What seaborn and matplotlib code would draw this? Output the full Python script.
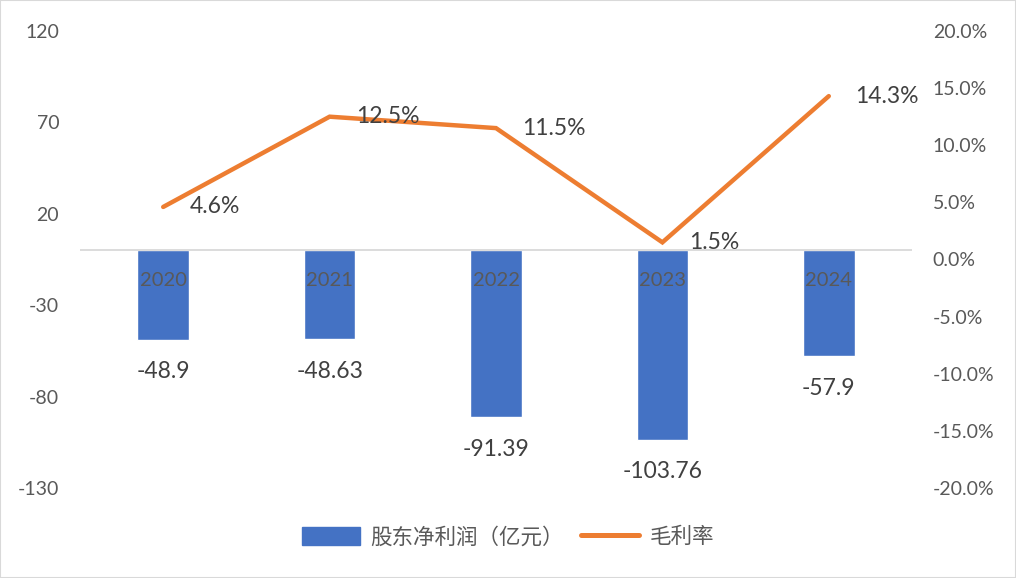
import matplotlib

matplotlib.use('Agg')

import matplotlib.pyplot as plt
import matplotlib.patches as mpatches
from matplotlib.lines import Line2D
from matplotlib.ticker import PercentFormatter
import seaborn as sns
import pandas as pd

years = ['2020', '2021', '2022', '2023', '2024']
net_profit = [-48.9, -48.63, -91.39, -103.76, -57.9]
gross_margin = [4.6, 12.5, 11.5, 1.5, 14.3]
profit_labels = ['-48.9', '-48.63', '-91.39', '-103.76', '-57.9']

left_ticks = [-130, -80, -30, 20, 70, 120]
right_ticks = [-20, -15, -10, -5, 0, 5, 10, 15, 20]

BLUE = '#4472C4'
ORANGE = '#ED7D31'
GREY_TXT = '#595959'

sns.set_style('white')
plt.rcParams['font.family'] = ['Lato', 'Noto Sans CJK SC', 'DejaVu Sans']
plt.rcParams['axes.unicode_minus'] = False

df = pd.DataFrame({
    'year': years,
    'profit': net_profit,
    'margin': gross_margin,
    'idx': range(len(years)),
})

fig = plt.figure(figsize=(10.16, 5.78), dpi=100)
ax = fig.add_axes([80 / 1016, 1 - 488 / 578, 832 / 1016, 457 / 578])

sns.barplot(
    data=df,
    x='year',
    y='profit',
    color=BLUE,
    width=0.31,
    saturation=1,
    ax=ax,
)

ax.set_xlim(-0.5, len(years) - 0.5)
ax.set_ylim(-130, 120)
ax.set_yticks(left_ticks)
ax.set_yticklabels([str(t) for t in left_ticks])
ax.set_xticks([])
ax.set_xlabel('')
ax.set_ylabel('')
ax.axhline(0, color='#d9d9d9', linewidth=1.3, zorder=1)

ax.tick_params(axis='y', length=0, pad=15, labelsize=14, labelcolor=GREY_TXT)

for i, (v, lab) in enumerate(zip(net_profit, profit_labels)):
    ax.annotate(
        lab,
        (i, v),
        xytext=(0, -23),
        textcoords='offset points',
        ha='center',
        va='center',
        fontsize=16.5,
        color='#404040',
    )
    ax.annotate(
        years[i],
        (i, 0),
        xytext=(0, -22),
        textcoords='offset points',
        ha='center',
        va='center',
        fontsize=14.5,
        color=GREY_TXT,
    )

ax2 = ax.twinx()

sns.lineplot(
    data=df,
    x='idx',
    y='margin',
    color=ORANGE,
    linewidth=3.2,
    ax=ax2,
    solid_capstyle='round',
    solid_joinstyle='miter',
)

ax2.set_ylim(-20, 20)
ax2.set_yticks(right_ticks)
ax2.yaxis.set_major_formatter(PercentFormatter(decimals=1))
ax2.set_xlabel('')
ax2.set_ylabel('')
ax2.tick_params(axis='y', length=0, pad=15, labelsize=14, labelcolor=GREY_TXT)

for i, v in enumerate(gross_margin):
    ax2.annotate(
        f'{v:.1f}%',
        (i, v),
        xytext=(19, 0),
        textcoords='offset points',
        ha='left',
        va='center',
        fontsize=16.5,
        color='#404040',
    )

for a in (ax, ax2):
    for s in a.spines.values():
        s.set_visible(False)

handles = [
    mpatches.Patch(color=BLUE, label='股东净利润（亿元）'),
    Line2D([0], [0], color=ORANGE, linewidth=3.6, label='毛利率',
           solid_capstyle='round'),
]

fig.legend(
    handles=handles,
    loc='center',
    bbox_to_anchor=(508 / 1016, 1 - 537 / 578),
    ncol=2,
    frameon=False,
    fontsize=15.5,
    handlelength=2.7,
    handleheight=0.9,
    columnspacing=0.8,
    handletextpad=0.5,
    labelcolor=GREY_TXT,
)

fig.patches.append(
    mpatches.Rectangle(
        (0, 0), 1, 1,
        transform=fig.transFigure,
        fill=False,
        edgecolor='#d9d9d9',
        linewidth=1.5,
    )
)

fig.savefig('out.png', dpi=100)
plt.close(fig)
